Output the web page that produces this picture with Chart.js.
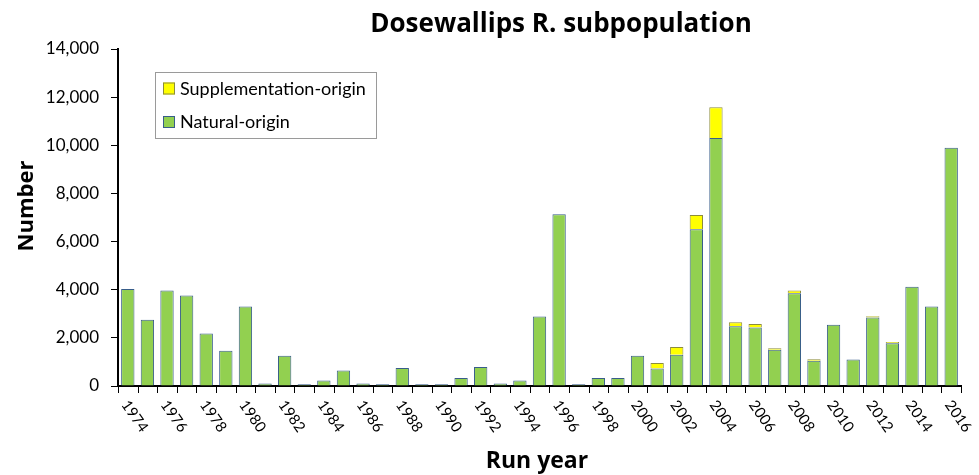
<!DOCTYPE html>
<html>
<head>
<meta charset="utf-8">
<script src="https://cdn.jsdelivr.net/npm/chart.js@4.4.1/dist/chart.umd.min.js"></script>
<style>
html,body{margin:0;padding:0;background:#fff;}
#wrap{width:979px;height:475px;position:relative;}
</style>
</head>
<body>
<div id="wrap"><canvas id="c" width="979" height="475"></canvas></div>
<script>
const years = [];
for (let y = 1974; y <= 2016; y++) years.push(String(y));

const naturalOrigin = [4030,2750,3970,3760,2180,1460,3300,100,1260,70,
  230,640,100,70,750,70,70,330,790,100,
  230,2890,7140,70,330,330,1260,730,1300,6510,
  10300,2480,2430,1510,3850,1050,2540,1100,2850,1780,
  4120,3300,9900];

const supplementationOrigin = [0,0,0,0,0,0,0,0,0,0,
  0,0,0,0,0,0,0,0,0,0,
  0,0,0,0,0,0,0,230,320,590,
  1280,170,150,60,120,60,0,0,50,50,
  0,0,0];

const yTicks = [0,2000,4000,6000,8000,10000,12000,14000];

const chartTitle = 'Dosewallips R. subpopulation';
const xTitle = 'Run year';
const yTitle = 'Number';
const FONT = 'Lato, "Liberation Sans", sans-serif';
const BFONT = '"Open Sans", Lato, sans-serif';

const customDraw = {
  id: 'customDraw',
  afterDraw(chart) {
    const ctx = chart.ctx;
    const xs = chart.scales.x;
    const area = chart.chartArea;
    ctx.save();
    // x tick marks at category boundaries
    const step = (xs.right - xs.left) / years.length;
    ctx.strokeStyle = '#000';
    ctx.lineWidth = 1;
    ctx.beginPath();
    for (let i = 0; i <= years.length; i++) {
      const x = Math.round(xs.getPixelForValue(i) - step / 2) + 0.5;
      ctx.moveTo(x, area.bottom);
      ctx.lineTo(x, area.bottom + 7);
    }
    ctx.stroke();

    ctx.fillStyle = '#000';
    // title
    ctx.font = 'bold 26px ' + BFONT;
    ctx.textAlign = 'center';
    ctx.textBaseline = 'alphabetic';
    ctx.fillText(chartTitle, 561, 32);
    // x title
    ctx.font = 'bold 23px ' + BFONT;
    ctx.fillText(xTitle, 537, 468);
    // y title
    ctx.save();
    ctx.translate(33, 206);
    ctx.rotate(-Math.PI / 2);
    ctx.font = 'bold 22px ' + BFONT;
    ctx.fillText(yTitle, 0, 0);
    ctx.restore();
    // x tick labels, rotated clockwise
    ctx.font = '15px ' + FONT;
    ctx.textAlign = 'left';
    ctx.textBaseline = 'middle';
    years.forEach((lab, i) => {
      if (i % 2 !== 0) return;
      const px = xs.getPixelForValue(i);
      ctx.save();
      ctx.translate(px - 3, area.bottom + 16);
      ctx.rotate(55 * Math.PI / 180);
      ctx.fillText(lab, 0, 0);
      ctx.restore();
    });
    // legend
    const lx = 155, ly = 72, lw = 221, lh = 66;
    ctx.strokeStyle = '#9a9a9a';
    ctx.lineWidth = 1;
    ctx.fillStyle = '#fff';
    ctx.fillRect(lx, ly, lw, lh);
    ctx.strokeRect(lx + 0.5, ly + 0.5, lw, lh);
    const items = [
      {label: chart.data.datasets[1].label, fill: '#FFFF00', stroke: '#8c8c3c', y: 88},
      {label: chart.data.datasets[0].label, fill: '#92D050', stroke: '#385D8A', y: 121.5}
    ];
    ctx.font = '18px ' + FONT;
    ctx.textBaseline = 'alphabetic';
    items.forEach(it => {
      ctx.fillStyle = it.fill;
      ctx.fillRect(163, it.y - 5.5, 12, 12);
      ctx.strokeStyle = it.stroke;
      ctx.strokeRect(163.5, it.y - 5, 11, 11);
      ctx.fillStyle = '#000';
      ctx.fillText(it.label, 180, it.y + 6.5);
    });
    ctx.restore();
  }
};

new Chart(document.getElementById('c'), {
  type: 'bar',
  data: {
    labels: years,
    datasets: [
      {
        label: 'Natural-origin',
        data: naturalOrigin,
        backgroundColor: '#92D050',
        borderColor: '#385D8A',
        borderWidth: 1,
        borderSkipped: 'bottom',
        barPercentage: 0.68,
        categoryPercentage: 1.0
      },
      {
        label: 'Supplementation-origin',
        data: supplementationOrigin,
        backgroundColor: '#FFFF00',
        borderColor: '#8c8c3c',
        borderWidth: 1,
        borderSkipped: 'bottom',
        barPercentage: 0.68,
        categoryPercentage: 1.0
      }
    ]
  },
  options: {
    responsive: false,
    animation: false,
    devicePixelRatio: 1,
    layout: { padding: { top: 49, right: 18, left: 0, bottom: 0 } },
    plugins: {
      legend: { display: false },
      title: { display: false },
      tooltip: { enabled: false }
    },
    scales: {
      x: {
        stacked: true,
        afterFit(scale) { scale.height = 89; },
        grid: { display: false },
        border: { display: true, color: '#000', width: 2 },
        ticks: { display: false, autoSkip: false }
      },
      y: {
        stacked: true,
        min: 0,
        max: 14000,
        afterFit(scale) { scale.width = 118; },
        afterBuildTicks(scale) { scale.ticks = yTicks.map(v => ({ value: v })); },
        grid: { display: true, drawOnChartArea: false, drawTicks: true, tickLength: 7, color: '#000' },
        border: { display: true, color: '#000', width: 2 },
        ticks: {
          color: '#000',
          padding: 12,
          font: { family: FONT, size: 17 },
          callback: v => v.toLocaleString('en-US')
        }
      }
    }
  },
  plugins: [customDraw]
});
</script>
</body>
</html>
